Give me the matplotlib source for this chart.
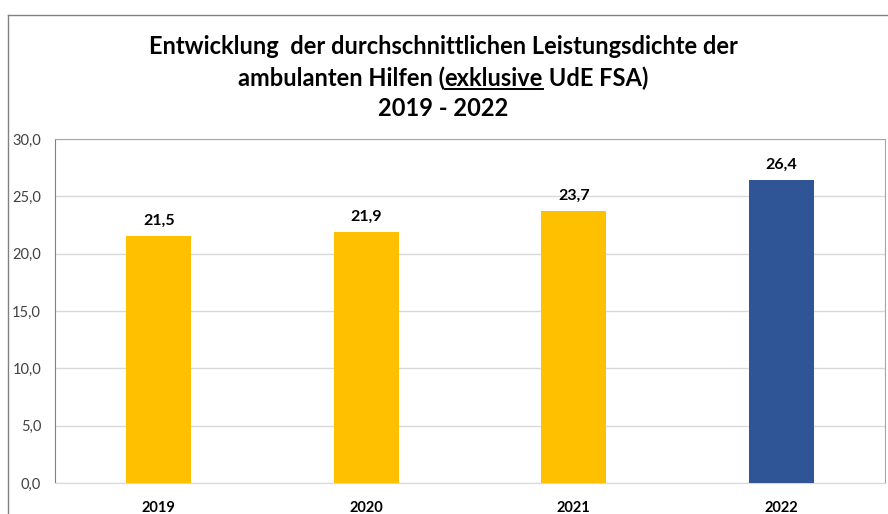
import matplotlib
matplotlib.use("Agg")
import matplotlib.pyplot as plt
from matplotlib.lines import Line2D

years = ["2019", "2020", "2021", "2022"]
values = [21.5, 21.9, 23.7, 26.4]
value_labels = ["21,5", "21,9", "23,7", "26,4"]
bar_colors = ["#FFC000", "#FFC000", "#FFC000", "#2F5597"]
yticks = [0, 5, 10, 15, 20, 25, 30]
ytick_labels = ["0,0", "5,0", "10,0", "15,0", "20,0", "25,0", "30,0"]

plt.rcParams['font.family'] = ['Lato', 'DejaVu Sans']

W, H = 888, 514
fig = plt.figure(figsize=(W/100, H/100), dpi=100)
ax = fig.add_axes([55/W, 1 - 483/H, (885-55)/W, (483-139)/H])

x = list(range(len(years)))
ax.bar(x, values, width=0.313, color=bar_colors, zorder=3)
ax.set_xlim(-0.5, 3.5)
ax.set_ylim(0, 30)
ax.set_yticks(yticks)
ax.set_yticklabels(ytick_labels, fontsize=10.5, color="#404040")
ax.set_xticks(x)
ax.set_xticklabels(years, fontsize=10.5, fontweight="bold", color="#000000")
ax.tick_params(axis="both", length=0)
ax.tick_params(axis="x", pad=13)
ax.tick_params(axis="y", pad=10)
ax.grid(axis="y", color="#D9D9D9", linewidth=1, zorder=0)
ax.spines["left"].set_color("#808080")
ax.spines["right"].set_color("#A6A6A6")
ax.spines["top"].set_color("#A6A6A6")
ax.spines["bottom"].set_color("#D9D9D9")

for xi, v, lab in zip(x, values, value_labels):
    ax.annotate(lab, (xi, v), xytext=(0, 6), textcoords="offset points",
                ha="center", va="bottom", fontsize=11.5, fontweight="bold")

# outer chart border (left and top visible)
fig.add_artist(Line2D([8/W, 8/W], [0, 1 - 15/H], color="#808080", lw=1, transform=fig.transFigure))
fig.add_artist(Line2D([8/W, 1], [1 - 15/H, 1 - 15/H], color="#808080", lw=1, transform=fig.transFigure))

# title
tfs = 17
cx = 443/W
fig.text(cx, 1 - 47/H, "Entwicklung  der durchschnittlichen Leistungsdichte der",
         ha="center", va="center", fontsize=tfs, fontweight="bold")
fig.text(cx, 1 - 108/H, "2019 - 2022", ha="center", va="center", fontsize=tfs, fontweight="bold")

parts = ["ambulanten Hilfen (", "exklusive", " UdE FSA)"]
renderer = fig.canvas.get_renderer()
y2 = 1 - 78/H
full = fig.text(cx, y2, "".join(parts), ha="center", va="center", fontsize=tfs, fontweight="bold")
bb = full.get_window_extent(renderer)
full.remove()
left = bb.x0
for i, p in enumerate(parts):
    t = fig.text(left / W, y2, p, ha="left", va="center", fontsize=tfs, fontweight="bold")
    pb = t.get_window_extent(renderer)
    if i == 1:
        uy = (pb.y0 + 1) / H
        fig.add_artist(Line2D([pb.x0 / W, pb.x1 / W], [uy, uy], color="black", lw=1.4,
                              transform=fig.transFigure))
    left = pb.x1

fig.savefig("out.png", dpi=100)
